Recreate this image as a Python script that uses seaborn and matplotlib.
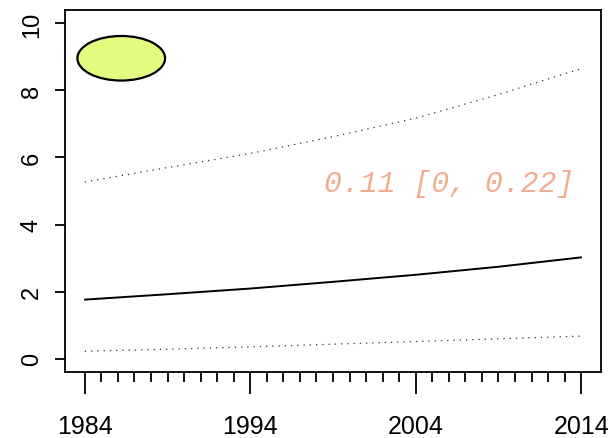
import numpy as np
import pandas as pd
import matplotlib
matplotlib.use("Agg")
import matplotlib.pyplot as plt
from matplotlib.patches import Ellipse
import seaborn as sns

# Data
years = [1984, 1989, 1994, 1999, 2004, 2009, 2014]
estimate = [1.76, 1.92, 2.09, 2.29, 2.50, 2.74, 3.02]
upper = [5.27, 5.70, 6.12, 6.62, 7.17, 7.88, 8.65]
lower = [0.22, 0.28, 0.35, 0.43, 0.51, 0.59, 0.67]
annotation = "0.11 [0, 0.22]"
major_years = [1984, 1994, 2004, 2014]
y_ticks = [0, 2, 4, 6, 8, 10]

df = pd.DataFrame({"year": years, "estimate": estimate, "upper": upper, "lower": lower})

sns.set_style("white")
plt.rcParams["font.family"] = ["Liberation Sans", "DejaVu Sans"]

fig = plt.figure(figsize=(6.08, 4.39), dpi=100)
ax = fig.add_axes([65 / 608, 66 / 439, 536 / 608, 362 / 439])

sns.lineplot(data=df, x="year", y="estimate", ax=ax, color="black", lw=1.4)
sns.lineplot(data=df, x="year", y="upper", ax=ax, color="#333333", lw=0.9,
             linestyle=(0, (1, 4)))
sns.lineplot(data=df, x="year", y="lower", ax=ax, color="#333333", lw=0.9,
             linestyle=(0, (1, 4)))

ax.set_xlim(1982.8, 2015.2)
ax.set_ylim(-0.4, 10.4)

# ellipse marker at top-left
ell = Ellipse((1986.2, 8.96), width=5.3, height=1.33, facecolor="#e3fc7f",
              edgecolor="black", lw=1.6, zorder=5)
ax.add_patch(ell)

ax.text(2006.0, 5.0, annotation, color="#f2ad90", fontsize=21.5, style="italic",
        family=["Liberation Mono", "DejaVu Sans Mono"], ha="center", va="baseline")

ax.set_xticks(major_years)
ax.set_xticks(list(range(1984, 2015)), minor=True)
ax.set_xticklabels([str(y) for y in major_years])
ax.set_yticks(y_ticks)
ax.set_yticklabels([str(v) for v in y_ticks], rotation=90, va="center")

ax.tick_params(axis="x", which="major", length=16, width=1.3, labelsize=18, pad=14,
               direction="out", bottom=True, color="black", labelcolor="black")
ax.tick_params(axis="x", which="minor", length=7, width=1.3, direction="out",
               bottom=True, color="black")
ax.tick_params(axis="y", which="major", length=7, width=1.3, labelsize=17, pad=9,
               direction="out", left=True, color="black", labelcolor="black")

for s in ax.spines.values():
    s.set_color("black")
    s.set_linewidth(1.3)
    s.set_visible(True)

ax.set_xlabel("")
ax.set_ylabel("")
fig.savefig("out.png", dpi=100)
